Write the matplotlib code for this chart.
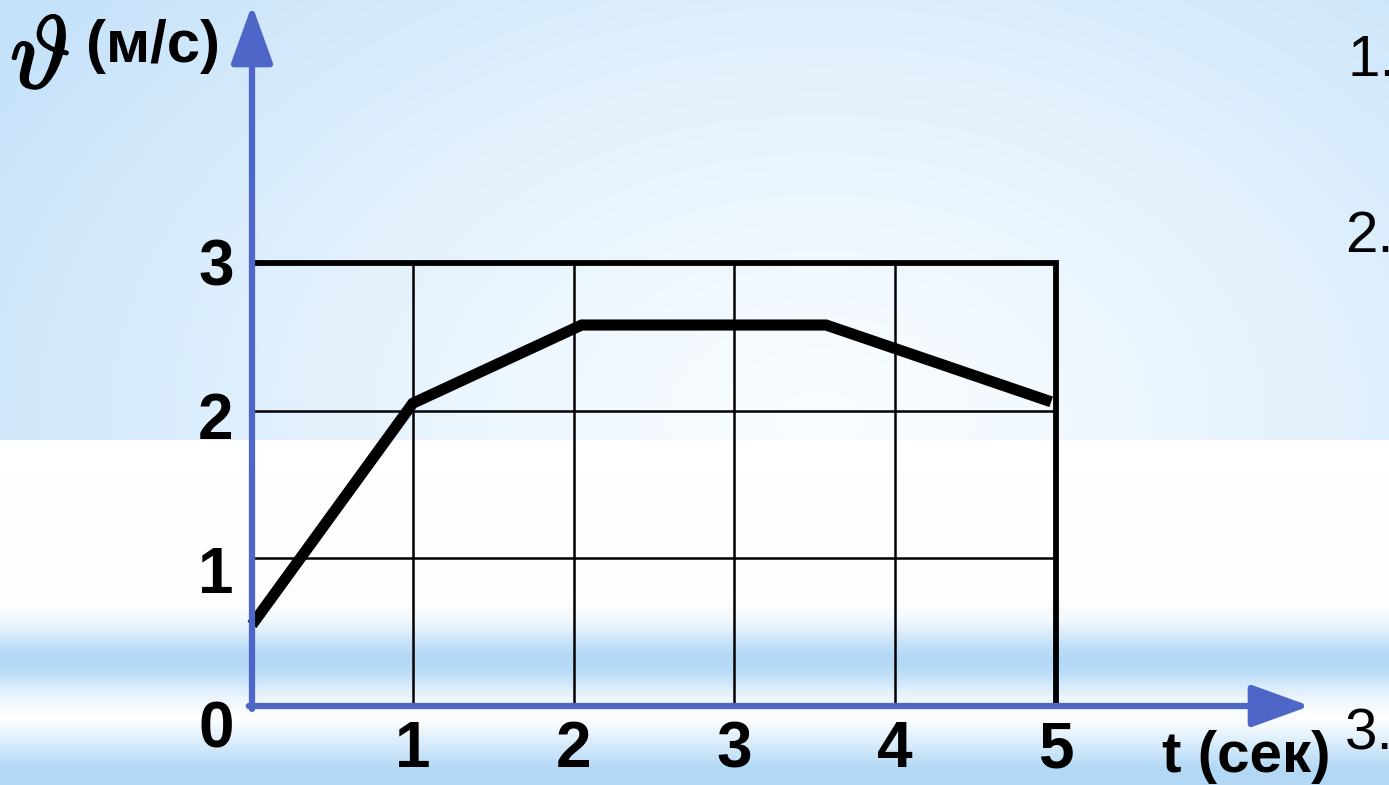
import numpy as np
import matplotlib
matplotlib.use("Agg")
import matplotlib.pyplot as plt
import matplotlib.patheffects as pe

# ---- data ----
t_vals = [0.0, 1.0, 2.05, 3.57, 4.97]
v_vals = [0.55, 2.05, 2.58, 2.58, 2.06]
x_ticks = [1, 2, 3, 4, 5]
y_ticks = [0, 1, 2, 3]
x_tick_labels = ["1", "2", "3", "4", "5"]
y_tick_labels = ["0", "1", "2", "3"]
x_label = "t (сек)"
y_unit = "(м/с)"
side_items = ["1.", "2.", "3."]

W, H = 1389, 785
DPI = 100
ox, oy = 252, 706          # pixel of origin
ux = (1056 - 252) / 5.0    # px per unit x
uy = (706 - 263) / 3.0     # px per unit y

xlim = (-ox / ux, (W - ox) / ux)
ylim = (-(H - oy) / uy, oy / uy)

def px(x, y):
    return ((x - ox) / ux, (oy - y) / uy)

plt.rcParams['mathtext.fontset'] = 'cm'
fig = plt.figure(figsize=(W / DPI, H / DPI), dpi=DPI)
ax = fig.add_axes([0, 0, 1, 1])
ax.set_xlim(*xlim)
ax.set_ylim(*ylim)
ax.axis('off')

# ---- background ----
yy, xx = np.mgrid[0:H, 0:W].astype(float)
light = np.array([0.975, 0.99, 1.0])
dark = np.array([0.78, 0.89, 0.98])
d = np.sqrt(((xx - 820) / 950) ** 2 + ((yy - 420) / 650) ** 2)
tt = np.clip(d, 0, 1)[..., None] ** 1.3
top = light * (1 - tt) + dark * tt
blue = np.array([0.70, 0.85, 0.965])
w = np.maximum(np.exp(-((yy - 660) / 32) ** 2), np.clip((yy - 718) / 50, 0, 1))[..., None]
bottom = np.ones(3) * (1 - w) + blue * w
bg = np.where((yy < 440)[..., None], top, bottom)
ax.imshow(bg, extent=(xlim[0], xlim[1], ylim[0], ylim[1]), origin='upper',
          aspect='auto', zorder=0, interpolation='bilinear')

# ---- grid ----
for xv in x_ticks[:-1]:
    ax.plot([xv, xv], [0, 3], color='black', lw=1.8, zorder=2, solid_capstyle='butt')
for yv in y_ticks[1:-1]:
    ax.plot([0, 5], [yv, yv], color='black', lw=1.8, zorder=2, solid_capstyle='butt')
ax.plot([0, 5, 5], [3, 3, 0], color='black', lw=4.2, zorder=2,
        solid_capstyle='butt', solid_joinstyle='miter')

# ---- data line ----
ax.plot(t_vals, v_vals, color='black', lw=8, zorder=4,
        solid_capstyle='butt', solid_joinstyle='miter')

# ---- axes arrows ----
axis_color = '#4f66c9'
ax.annotate('', xy=(0, (oy - 5) / uy), xytext=(0, -0.02),
            arrowprops=dict(arrowstyle='-|>,head_length=1.8,head_width=0.65',
                            lw=4.5, color=axis_color, mutation_scale=20,
                            shrinkA=0, shrinkB=0), zorder=5)
ax.annotate('', xy=((1310 - ox) / ux, 0), xytext=(-0.02, 0),
            arrowprops=dict(arrowstyle='-|>,head_length=1.8,head_width=0.65',
                            lw=4.5, color=axis_color, mutation_scale=20,
                            shrinkA=0, shrinkB=0), zorder=5)

# ---- tick labels ----
font = 'Liberation Sans'
for yv, lab in zip(y_ticks, y_tick_labels):
    off = 24 - 6.3 * yv    # px below grid line
    ax.text(*px(216, oy - yv * uy + off), lab, ha='center', va='center', fontsize=46,
            fontweight='bold', family=font, zorder=6)
for xv, lab in zip(x_ticks, x_tick_labels):
    ax.text(xv, -44 / uy, lab, ha='center', va='center', fontsize=46,
            fontweight='bold', family=font, zorder=6)

# ---- axis labels ----
ax.text(*px(1162, 772), x_label, ha='left', va='baseline', fontsize=42,
        fontweight='bold', family=font, zorder=6)
ax.text(*px(10, 88), r'$\vartheta$', ha='left', va='baseline', fontsize=74, zorder=6,
        path_effects=[pe.withStroke(linewidth=1.6, foreground='black')])
ax.text(*px(86, 62), y_unit, ha='left', va='baseline', fontsize=43,
        fontweight='bold', family=font, zorder=6)

# ---- cut-off list items at the right ----
for (xp, yp), lab in zip([(1348, 76), (1345, 252), (1345, 750)], side_items):
    ax.text(*px(xp, yp), lab, ha='left', va='baseline', fontsize=42, family=font, zorder=6)

fig.savefig('out.png', dpi=DPI)
